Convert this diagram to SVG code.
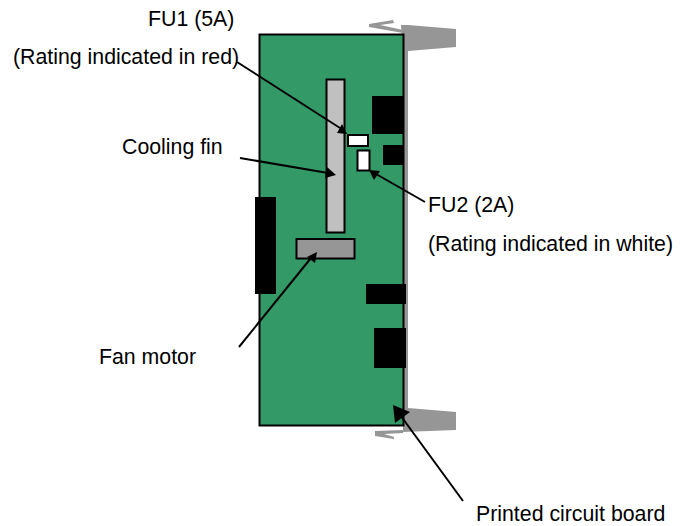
<svg xmlns="http://www.w3.org/2000/svg" width="681" height="526" viewBox="0 0 681 526">
<style>
text{font-family:"Liberation Sans",Arial,sans-serif;font-size:21.3px;fill:#000}
.g{fill:#969696}
.b{fill:#000}
.c{stroke:#000;stroke-width:2;fill:none}
.h{fill:#000}
</style>
<rect width="681" height="526" fill="#fff"/>
<g id="bracket">
<rect class="g" x="403" y="30" width="5" height="400"/>
<polygon class="g" points="401,25 408,25 456,29 456,47 408,51 403,51"/>
<polygon class="g" points="369,24 393,20 394,23 380,25 403,30 403,33 369,27"/>
<polygon class="g" points="403,411 408,408 456,412 456,430 403,432"/>
<polygon class="g" points="375,431 403,430 403,433 384,434 394,437 394,439 375,436"/>
</g>
<g id="board"><rect x="259.500" y="34.500" width="144" height="391" fill="#339966" stroke="#000" stroke-width="2"/></g>
<g id="chips">
<rect class="b" x="372" y="96" width="32" height="38"/>
<rect class="b" x="383" y="145" width="21" height="20"/>
<rect class="b" x="255" y="197" width="21" height="97"/>
<rect class="b" x="366" y="284" width="40" height="20"/>
<rect class="b" x="374" y="328" width="32" height="40"/>
</g>
<g id="cooling-fin"><rect x="326.500" y="79.500" width="18" height="153" fill="#c0c0c0" stroke="#000" stroke-width="2"/></g>
<g id="fan-motor"><rect x="296.500" y="239" width="58" height="19.500" fill="#969696" stroke="#000" stroke-width="2"/></g>
<g id="fu1"><rect x="348" y="135" width="20" height="11" fill="#fff" stroke="#000" stroke-width="2"/></g>
<g id="fu2"><rect x="357.500" y="150.500" width="12" height="20" fill="#fff" stroke="#000" stroke-width="2"/></g>
<g id="connectors">
<line class="c" x1="237" y1="62" x2="340" y2="128"/><polygon class="h" points="347,134 337,133 342,124"/>
<line class="c" x1="240" y1="158" x2="328" y2="173"/><polygon class="h" points="336,175 327,167 325,178"/>
<line class="c" x1="425" y1="202" x2="376" y2="174"/><polygon class="h" points="369,170 380,171 374,180"/>
<line class="c" x1="239" y1="347" x2="311" y2="258"/><polygon class="h" points="317,252 315,263 307,257"/>
<line class="c" x1="463" y1="501" x2="398" y2="412"/><polygon class="h" points="393,405 410,412 395,423"/>
</g>
<g id="labels">
<text x="148" y="26">FU1 (5A)</text>
<text x="13" y="64">(Rating indicated in red)</text>
<text x="122" y="154">Cooling fin</text>
<text x="428" y="212">FU2 (2A)</text>
<text x="428" y="251">(Rating indicated in white)</text>
<text x="99" y="364">Fan motor</text>
<text x="476" y="521">Printed circuit board</text>
</g>
</svg>
